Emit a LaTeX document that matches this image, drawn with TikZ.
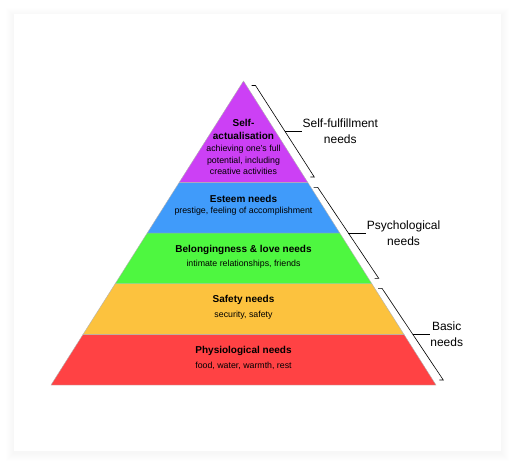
\documentclass[tikz,border=0pt]{standalone}
\usepackage{fontspec}
\setmainfont{Liberation Sans}
\usetikzlibrary{positioning,calc}

\definecolor{selfpurple}{RGB}{204,64,245}
\definecolor{esteemblue}{RGB}{64,155,250}
\definecolor{lovegreen}{RGB}{78,247,64}
\definecolor{safetyyellow}{RGB}{252,194,62}
\definecolor{physred}{RGB}{255,66,68}

\begin{document}
\begin{tikzpicture}[x=1pt,y=-1pt]
  \tikzset{band/.style={fill=#1,draw=black!30,line width=0.4pt},
    need title/.style={font=\fontsize{10}{12.7}\selectfont\bfseries,align=center,inner sep=0pt},
    need text/.style={font=\fontsize{8.8}{11.5}\selectfont,align=center,inner sep=0pt},
    bracket/.style={draw,line width=0.6pt},
    group label/.style={font=\fontsize{12}{16}\selectfont,align=center,anchor=west,inner sep=0.5pt}}

  \useasboundingbox (0,0) rectangle (515,466);

  % card with a soft shadow
  \foreach \s in {1,...,8}
    \fill[black,opacity=0.005] (14-\s,16-\s) rectangle (501+\s,453+\s);
  \fill[white] (14,14) rectangle (501,451);

  % pyramid bands
  \fill[band=physred] (51,385) -- (436,385) -- (403.9,334.3) -- (83.1,334.3) -- cycle;
  \fill[band=safetyyellow] (83.1,334.3) -- (403.9,334.3) -- (371.8,283.7) -- (115.2,283.7) -- cycle;
  \fill[band=lovegreen] (115.2,283.7) -- (371.8,283.7) -- (339.75,233) -- (147.25,233) -- cycle;
  \fill[band=esteemblue] (147.25,233) -- (339.75,233) -- (307.7,182.3) -- (179.3,182.3) -- cycle;
  \fill[band=selfpurple] (179.3,182.3) -- (307.7,182.3) -- (243.5,81) -- cycle;

  \node[need title] (selfT) at (243.5,129.7) {Self-\\actualisation};
  \node[need text] (selfS) at (243.5,160.3) {achieving one's full\\potential, including\\creative activities};
  \node[need title] (esteemT) at (243.5,199) {Esteem needs};
  \node[need text] (esteemS) at (243.5,211.5) {prestige, feeling of accomplishment};
  \node[need title] (loveT) at (243.5,249.7) {Belongingness \& love needs};
  \node[need text] (loveS) at (243.5,264.5) {intimate relationships, friends};
  \node[need title] (safetyT) at (243.5,300.3) {Safety needs};
  \node[need text] (safetyS) at (243.5,315) {security, safety};
  \node[need title] (physT) at (243.5,351) {Physiological needs};
  \node[need text] (physS) at (243.5,365.5) {food, water, warmth, rest};

  % brackets
  \coordinate (sfTop) at (255.5,85.5);
  \coordinate (sfBot) at (314.3,177);
  \coordinate (sfMid) at ($(sfTop)!0.5!(sfBot)$);
  \draw[bracket] ([xshift=-4pt]sfTop) -- (sfTop) -- (sfBot) -- ([xshift=-4pt]sfBot);
  \node[group label] (sfL) at ([xshift=17pt]sfMid) {Self-fulfillment\\needs};
  \draw[bracket] (sfMid) -- (sfL.west);

  \coordinate (psyTop) at (317.7,187.3);
  \coordinate (psyBot) at (378.7,278.3);
  \coordinate (psyMid) at ($(psyTop)!0.5!(psyBot)$);
  \draw[bracket] ([xshift=-4pt]psyTop) -- (psyTop) -- (psyBot) -- ([xshift=-4pt]psyBot);
  \node[group label] (psyL) at ([xshift=18pt]psyMid) {Psychological\\needs};
  \draw[bracket] (psyMid) -- (psyL.west);

  \coordinate (basTop) at (382,288.3);
  \coordinate (basBot) at (443.3,380);
  \coordinate (basMid) at ($(basTop)!0.5!(basBot)$);
  \draw[bracket] ([xshift=-4pt]basTop) -- (basTop) -- (basBot) -- ([xshift=-4pt]basBot);
  \node[group label] (basL) at ([xshift=17pt]basMid) {Basic\\needs};
  \draw[bracket] (basMid) -- (basL.west);
\end{tikzpicture}
\end{document}
